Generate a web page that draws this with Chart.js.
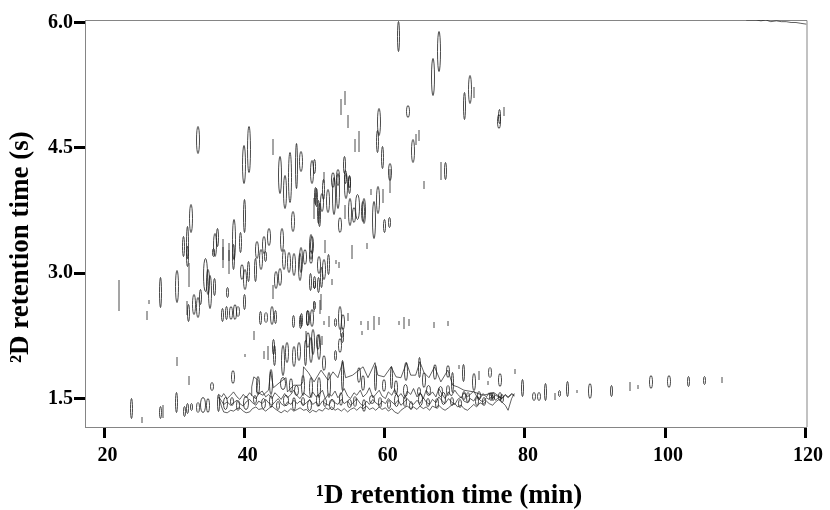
<!DOCTYPE html>
<html>
<head>
<meta charset="utf-8">
<style>html,body{margin:0;padding:0;background:#fff}canvas{display:block}</style>
<script src="https://cdn.jsdelivr.net/npm/chart.js@4/dist/chart.umd.min.js"></script>
</head>
<body>
<canvas id="c" width="830" height="510"></canvas>
<script>
const xTicks=[20,40,60,80,100,120];
const yTicks=[1.5,3.0,4.5,6.0];
const xTitle='\u00A0¹D retention time (min)';
const yTitle='²D retention time (s)\u00A0\u00A0\u00A0\u00A0\u00A0\u00A0\u00A0';

// Isolated peaks: 1D time (min), 2D time (s), 2D span (s), 1D span (min)
const peakRt1=[33.4,40.6,39.9,44.1,45.1,45.7,46.4,47.4,48,49.6,50,39.9,32.4,46.9,49.9,50.3,50.7,31.9,31.3,35.7,36.1,38.4,39.4,45.3,43.4,42.7,41.7,49.6,36.9,37.7,
22,28,26.3,26.1,30.3,32.1,31.9,34.4,35.1,35.7,37.6,31.7,32,32.7,33.3,33.7,34.7,36.9,37.4,38,38.6,39.1,39.9,36.9,37.7,38.4,35.6,39.6,40.1,40.6,41.6,42.3,42.9,44.4,45,44,45.6,46.3,47,47.9,48.6,49.4,49.9,50.6,42.3,43,43.9,44.4,47,48,49,49.6,49.9,50.7,41.3,42.7,43.3,44.1,44.3,45.4,46.1,47,47.7,49,49.4,50.6,30.3,32,38.3,35.4,40,23.9,25.4,28,28.4,30.3,31.4,31.9,32.4,34,34.7,33.3,36.3,
62,67.7,66.9,72.1,71.4,72.7,77,76.4,76.3,54.3,53.8,54.7,63.3,59.1,59,55.7,56.3,64,64.4,64.9,59.7,60.7,68,68.7,51.3,52.6,53.3,54.3,54.4,55,
65.6,50.1,50.6,51.3,51,51.9,52.7,53.3,54.4,55,54.3,53.6,55.1,56.1,57.1,56.9,55.6,58,59,59.7,58.4,59.9,60.6,60.7,55.3,57.4,49.4,48.1,51.4,50.6,52,51.3,50.9,49.4,50,52.4,53.4,53,50.9,49.9,48.9,48.1,51.3,52,52.9,53.6,54.1,54.7,56.6,56.7,57.6,58.4,59.1,62,62.7,63.4,67,69,53.9,
48.7,49.7,50.4,51.1,54,53.6,53,51.3,48.7,
70.6,71.3,73.4,75,74.7,78.6,76.4,72.7,79.7,83,86.1,89.3,92.3,95,96.1,98,100.6,103.3,105.7,108.1,87.4,84.9,84.3,81.3,82];
const peakRt2=[4.6,4.48,4.3,4.51,4.18,3.97,4.15,4.28,4.34,4.21,4.28,3.69,3.66,3.62,3.78,3.91,3.7,3.37,3.32,3.34,3.43,3.4,3.37,3.4,3.43,3.34,3.28,3.34,3.28,3.25,
2.73,2.77,2.66,2.5,2.84,2.98,3.2,2.98,2.77,2.84,2.77,2.58,2.53,2.62,2.59,2.72,2.89,2.5,2.53,2.53,2.54,2.54,2.65,3.19,3.14,3.2,3.25,3.01,2.92,3.02,3.04,3.16,3.2,2.92,2.95,2.78,3.16,3.13,3.1,3.08,3.19,3.2,2.89,2.86,2.47,2.47,2.5,2.48,2.42,2.42,2.47,2.47,2.6,2.6,2.25,2.02,2.05,2.12,2.02,1.96,2.05,2,2.06,2.2,2.08,2.12,1.94,1.72,1.76,1.64,2.01,1.38,1.24,1.33,1.35,1.45,1.35,1.38,1.4,1.42,1.42,1.39,1.45,
5.83,5.65,5.35,5.2,5,5.16,4.94,4.87,4.81,5.1,4.99,4.82,4.93,4.81,4.58,4.53,4.58,4.46,4.6,4.65,4.39,4.21,4.22,4.22,4.15,4.12,4.15,4.3,4.15,4.1,
4.05,3.92,3.73,4,3.85,3.86,3.92,3.98,4.04,4.06,3.73,3.58,3.73,3.79,3.74,3.74,3.7,3.97,3.88,3.92,3.64,3.57,3.61,4.1,3.25,3.33,3.31,3.16,3.32,3.1,3.1,3.04,2.95,2.89,2.86,2.89,3.1,3.13,2.65,2.61,2.47,2.44,2.41,2.42,2.41,2.47,2.42,2.48,2.41,2.29,2.38,2.4,2.43,2.4,2.41,2.41,2.38,2.4,2.29,
2.24,2.18,2.18,2.2,2.23,2.14,2.02,1.93,2.05,
1.88,1.81,1.78,1.81,1.69,1.82,1.72,1.7,1.63,1.58,1.62,1.59,1.59,1.64,1.64,1.7,1.71,1.71,1.72,1.72,1.58,1.56,1.52,1.53,1.53];
const peakSpan2=[.32,.55,.46,.18,.44,.4,.6,.54,.24,.28,.17,.4,.34,.24,.24,.22,.28,.38,.24,.28,.22,.48,.24,.28,.2,.2,.2,.2,.24,.2,
.36,.36,.03,.1,.38,.28,.24,.4,.4,.2,.12,.16,.2,.24,.24,.18,.3,.16,.16,.16,.18,.12,.18,.24,.28,.3,.1,.18,.24,.24,.28,.24,.12,.2,.2,.16,.24,.24,.26,.32,.18,.16,.14,.18,.16,.12,.22,.16,.14,.16,.18,.2,.12,.16,.1,.08,.16,.18,.24,.36,.24,.24,.22,.18,.3,.3,.1,.1,.16,.1,.02,.24,.06,.14,.14,.24,.12,.12,.08,.18,.17,.12,.2,
.36,.48,.44,.34,.32,.12,.1,.17,.17,.16,.18,.14,.14,.32,.26,.14,.24,.28,.12,.12,.26,.2,.2,.2,.12,.18,.19,.2,.16,.14,
.08,.2,.28,.24,.22,.28,.44,.42,.3,.2,.16,.18,.32,.3,.3,.24,.18,.06,.32,.16,.44,.16,.12,.28,.16,.06,.3,.3,.14,.2,.24,.24,.24,.2,.08,.06,.06,.03,.18,.1,.18,.16,.04,.12,.1,.28,.18,.08,.04,.04,.1,.16,.08,.03,.13,.07,.06,.05,.12,
.12,.3,.18,.1,.12,.17,.12,.18,.3,
.04,.2,.1,.12,.04,.05,.16,.2,.2,.2,.18,.18,.13,.1,.03,.16,.14,.12,.1,.06,.02,.07,.07,.1,.1];
const peakSpan1=[.6,.6,.6,.3,.6,.6,.7,.4,.6,.6,.4,.4,.6,.6,.3,.4,.4,.4,.4,.6,.4,.6,.4,.6,.6,.6,.7,.7,.3,.3,
.3,.4,.3,.3,.6,.3,.4,.85,.6,.4,.4,.3,.4,.6,.7,.4,.7,.4,.4,.6,.6,.6,.4,.3,.3,.4,.4,.6,.7,.4,.4,.7,.4,.7,.6,.3,.6,.6,.7,.7,.6,.6,.4,.4,.4,.6,.6,.4,.4,.4,.6,.7,.3,.3,.3,.3,.3,.4,.4,.6,.6,.6,.6,.6,.6,.6,.3,.3,.6,.6,.15,.4,.3,.4,.3,.4,.4,.4,.4,1.1,.7,.6,.4,
.4,.6,.6,.7,.4,.3,.3,.4,.6,.3,.3,.3,.6,.6,.4,.3,.3,.7,.3,.3,.4,.6,.3,.4,.3,.6,.6,.4,.4,.4,
.3,.4,.4,.4,.6,.6,.7,.7,.6,.4,.3,.6,.7,.85,.7,.6,.7,.3,.7,.3,.7,.4,.4,.3,.3,.3,.7,.6,.3,.6,.4,.7,.4,.4,.4,.3,.3,.3,.3,.4,.4,.4,.3,.3,.4,.6,.6,.3,.15,.15,.3,.3,.3,.3,.3,.15,.3,.3,.6,
.3,.6,.6,.3,.4,.6,.4,.7,.4,
.3,.4,.3,.6,.3,.3,.6,.6,.4,.4,.4,.6,.4,.3,.3,.6,.6,.4,.4,.3,.15,.4,.3,.7,.7];

// Tall loops rising out of the unresolved band
const towerRt1=[63,65,65.6,67.1,69,69.7,54,56.3,58.6,60.9,56.9,59.9,61.6,52,50.6,49.4,48.3,66.3,68,63,64.9,69,71.3,73.4,75.1,76.4,41.9,43.7,45.4,46.6,47.4];
const towerRt2=[1.82,1.87,1.72,1.82,1.82,1.69,1.78,1.78,1.75,1.75,1.69,1.66,1.63,1.66,1.63,1.63,1.66,1.6,1.58,1.6,1.58,1.6,1.54,1.54,1.52,1.52,1.66,1.7,1.68,1.66,1.6];
const towerSpan2=[.22,.24,.18,.18,.14,.24,.36,.18,.3,.26,.18,.14,.17,.3,.24,.24,.24,.12,.12,.14,.1,.12,.1,.1,.1,.1,.22,.3,.14,.17,.12];
const towerSpan1=[.6,.4,.6,.6,.7,.4,.4,.6,.4,.4,.6,.7,.6,.6,.7,.6,.7,.85,.85,.85,.7,.7,.7,.7,.7,.7,.7,.6,1.1,.7,.85];

// Small loops inside the band
const loopRt1=[37.3,38.2,39.1,40.2,41.5,42.7,43.7,44.8,45.9,47.1,48.3,49.2,50.4,51.5,52.4,53.7,54.9,55.8,57.1,58.2,59.3,60.6,61.7,62.9,63.8,65.1,66.2,67.4,68.4,69.6,70.8,71.9,73.1,74.2,75.5,76.7];
const loopRt2=[1.44,1.47,1.42,1.45,1.49,1.44,1.46,1.42,1.48,1.44,1.47,1.42,1.48,1.45,1.43,1.5,1.44,1.47,1.42,1.49,1.45,1.43,1.48,1.46,1.42,1.49,1.45,1.44,1.5,1.46,1.44,1.51,1.47,1.46,1.52,1.5];
const loopSpan2=[.14,.1,.12,.16,.1,.12,.14,.1,.12,.16,.1,.12,.14,.1,.12,.16,.1,.12,.14,.1,.12,.1,.14,.12,.1,.14,.1,.12,.14,.1,.1,.12,.1,.1,.1,.1];
const loopSpan1=[.85,.6,.7,1,.6,.85,.7,.6,1,.7,.6,.85,.7,.6,1,.7,.85,.6,.7,1,.6,.7,.85,.6,.7,.85,.6,.7,.85,.6,.7,.6,.7,.6,.7,.6];

// Contour traces of the unresolved band and the column-bleed trace
const bandUpperRt1=[40.9,41,41.3,41.9,41.7,42.6,43.4,43.7,44.1,45.1,45.9,46.1,47,48,48.3,48.4,49.1,49.9,50.9,51.9,52.6,53.3,54,54.4,55.4,56.3,56.9,57.6,58.6,59,59.9,60.9,61.6,62.3,63.1,63.7,64.4,65,65.6,66.3,67.1,68,69,69.7,70.4,71.3,72.7,74,75.6,76.6];
const bandUpperRt2=[1.54,1.64,1.76,1.72,1.58,1.54,1.6,1.82,1.63,1.7,1.75,1.58,1.66,1.66,1.7,1.88,1.81,1.7,1.84,1.72,1.82,1.75,1.94,1.75,1.78,1.84,1.88,1.75,1.93,1.78,1.76,1.88,1.76,1.75,1.93,1.78,1.78,1.94,1.81,1.75,1.88,1.7,1.84,1.66,1.64,1.6,1.58,1.54,1.57,1.51];
const bandRt1=[36.3,36.7,37,37.5,38,38.4,38.9,39.3,39.8,40.2,40.7,41.1,41.6,42,42.5,43,43.4,43.9,44.3,44.8,45.2,45.7,46.1,46.6,47,47.5,47.9,48.4,48.8,49.3,49.7,50.2,50.6,51.1,51.5,52,52.4,52.9,53.3,53.8,54.2,54.7,55.1,55.6,56,56.5,56.9,57.4,57.8,58.3,58.7,59.2,59.6,60.1,60.5,61,61.4,61.9,62.3,62.8,63.2,63.7,64.1,64.6,65,65.5,65.9,66.4,66.8,67.3,67.7,68.2,68.6,69.1,69.5,70,70.4,70.9,71.3,71.8,72.2,72.7,73.1,73.6,74,74.5,74.9,75.4,75.8,76.3,76.7,77.2,77.6,78.1,78.5];
const bandLowRt2=[1.52,1.4,1.34,1.33,1.36,1.35,1.38,1.39,1.35,1.33,1.34,1.38,1.4,1.37,1.38,1.35,1.38,1.41,1.38,1.35,1.33,1.36,1.34,1.38,1.35,1.37,1.39,1.36,1.37,1.33,1.36,1.34,1.37,1.35,1.39,1.37,1.4,1.36,1.38,1.35,1.38,1.34,1.37,1.39,1.36,1.4,1.38,1.41,1.37,1.39,1.36,1.4,1.37,1.39,1.35,1.38,1.34,1.32,1.36,1.39,1.41,1.38,1.4,1.37,1.41,1.38,1.4,1.36,1.41,1.39,1.42,1.38,1.36,1.39,1.42,1.44,1.4,1.42,1.38,1.36,1.39,1.43,1.4,1.45,1.43,1.47,1.44,1.42,1.46,1.49,1.46,1.42,1.36,1.5,1.56];
const bandInnerRt2=[1.52,1.47,1.43,1.46,1.42,1.45,1.48,1.44,1.41,1.46,1.49,1.45,1.42,1.47,1.44,1.49,1.45,1.42,1.46,1.5,1.44,1.41,1.46,1.43,1.48,1.44,1.47,1.42,1.45,1.49,1.43,1.46,1.41,1.47,1.44,1.42,1.48,1.45,1.43,1.49,1.44,1.47,1.42,1.46,1.5,1.44,1.41,1.47,1.43,1.49,1.45,1.42,1.47,1.44,1.5,1.46,1.43,1.48,1.42,1.46,1.5,1.45,1.43,1.48,1.44,1.51,1.46,1.43,1.49,1.45,1.52,1.47,1.44,1.5,1.46,1.43,1.49,1.52,1.47,1.45,1.5,1.47,1.53,1.48,1.46,1.51,1.49,1.54,1.48,1.52,1.5,1.55,1.52,1.56,1.54];
const bandMidRt2=[1.55,1.52,1.56,1.5,1.54,1.58,1.52,1.49,1.55,1.51,1.57,1.53,1.5,1.56,1.59,1.52,1.55,1.5,1.57,1.53,1.49,1.56,1.51,1.55,1.6,1.53,1.5,1.57,1.54,1.51,1.58,1.52,1.55,1.6,1.5,1.56,1.53,1.59,1.51,1.56,1.62,1.53,1.5,1.57,1.54,1.6,1.52,1.56,1.63,1.51,1.55,1.6,1.53,1.5,1.58,1.54,1.61,1.52,1.56,1.5,1.59,1.55,1.62,1.52,1.57,1.5,1.6,1.54,1.58,1.52,1.62,1.55,1.5,1.58,1.53,1.6,1.55,1.51,1.57,1.52,1.55,1.59,1.53,1.5,1.56,1.52,1.57,1.5,1.54,1.52,1.5,1.54,1.51,1.55,1.53];
const bleedRt1=[111.6,113,113.7,114.4,115.1,115.9,116.6,117.3,118,118.7,119.4,120.2];
const bleedRt2=[6.03,6.03,6.02,6.03,6.01,6.02,6.01,6.01,6,6,5.99,5.98];

const INK='#1c1c1c';
const sprites={};
function peakSprite(hPx,wPx){
  const h=Math.max(1,Math.round(hPx)), w=Math.max(0,Math.round(wPx*.7));
  const key=h+'_'+w;
  if(sprites[key])return sprites[key];
  const c=document.createElement('canvas');
  c.width=w+3; c.height=h+3;
  const g=c.getContext('2d');
  g.strokeStyle=INK; g.lineWidth=.8;
  g.beginPath();
  if(w<2){g.moveTo(c.width/2,1);g.lineTo(c.width/2,h+2);}
  else g.ellipse(c.width/2,c.height/2,w/2,h/2,0,0,Math.PI*2);
  g.stroke();
  sprites[key]=c;
  return c;
}
function pairs(a,b){return a.map((v,i)=>({x:v,y:b[i]}));}
function trace(a,b){return {data:pairs(a,b),showLine:true,borderColor:INK,borderWidth:.7,pointRadius:0,tension:0,fill:false};}
function peaks(a,b,s2,s1){
  return {data:pairs(a,b),showLine:false,pointRadius:2,pointHoverRadius:2,
    pointStyle(ctx){
      const i=ctx.dataIndex;
      if(i===undefined||!ctx.chart.scales.y)return 'circle';
      const ys=ctx.chart.scales.y,xs=ctx.chart.scales.x;
      return peakSprite(Math.abs(ys.getPixelForValue(0)-ys.getPixelForValue(s2[i])),
                        Math.abs(xs.getPixelForValue(0)-xs.getPixelForValue(s1[i])));
    }};
}

const frame={id:'frame',beforeDatasetsDraw(ch){
  const a=ch.chartArea,g=ch.ctx;
  g.save();g.strokeStyle='#858585';g.lineWidth=1;
  g.beginPath();
  g.moveTo(a.left,a.top+.5);g.lineTo(a.right+.5,a.top+.5);g.lineTo(a.right+.5,a.bottom);
  g.stroke();g.restore();
  g.imageSmoothingEnabled=false;
}};

new Chart(document.getElementById('c'),{
  type:'scatter',
  data:{datasets:[
    peaks(peakRt1,peakRt2,peakSpan2,peakSpan1),
    peaks(towerRt1,towerRt2,towerSpan2,towerSpan1),
    peaks(loopRt1,loopRt2,loopSpan2,loopSpan1),
    trace(bandUpperRt1,bandUpperRt2),
    trace(bandRt1,bandMidRt2),
    trace(bandRt1,bandInnerRt2),
    trace(bandRt1,bandLowRt2),
    trace(bleedRt1,bleedRt2)
  ]},
  plugins:[frame],
  options:{
    responsive:false,animation:false,
    layout:{padding:{top:20,right:23.5,left:0,bottom:0}},
    plugins:{legend:{display:false},tooltip:{enabled:false},title:{display:false}},
    scales:{
      x:{type:'linear',min:17.2,max:120.2,
        afterBuildTicks(s){s.ticks=xTicks.map(v=>({value:v}));},
        afterFit(s){s.height=83;},
        border:{color:'#858585',width:1},
        grid:{drawOnChartArea:false,drawTicks:true,tickLength:11,tickWidth:3,tickColor:'#000'},
        ticks:{autoSkip:false,maxRotation:0,padding:6,labelOffset:3,color:'#000',
          font:{family:'"Liberation Serif"',weight:'bold',size:20},callback:v=>String(v)},
        title:{display:true,text:xTitle,color:'#000',
          font:{family:'"Liberation Serif"',weight:'bold',size:27,lineHeight:1},padding:{top:0,bottom:0}}
      },
      y:{type:'linear',min:1.16,max:6.03,
        afterBuildTicks(s){s.ticks=yTicks.map(v=>({value:v}));},
        afterFit(s){s.width=85;},
        border:{color:'#858585',width:1},
        grid:{drawOnChartArea:false,drawTicks:true,tickLength:11,tickWidth:3,tickColor:'#000'},
        ticks:{autoSkip:false,padding:1,color:'#000',
          font:{family:'"Liberation Serif"',weight:'bold',size:20},callback:v=>v.toFixed(1)},
        title:{display:true,text:yTitle,color:'#000',
          font:{family:'"Liberation Serif"',weight:'bold',size:27,lineHeight:1},padding:{top:8,bottom:0}}
      }
    }
  }
});
</script>
</body>
</html>
